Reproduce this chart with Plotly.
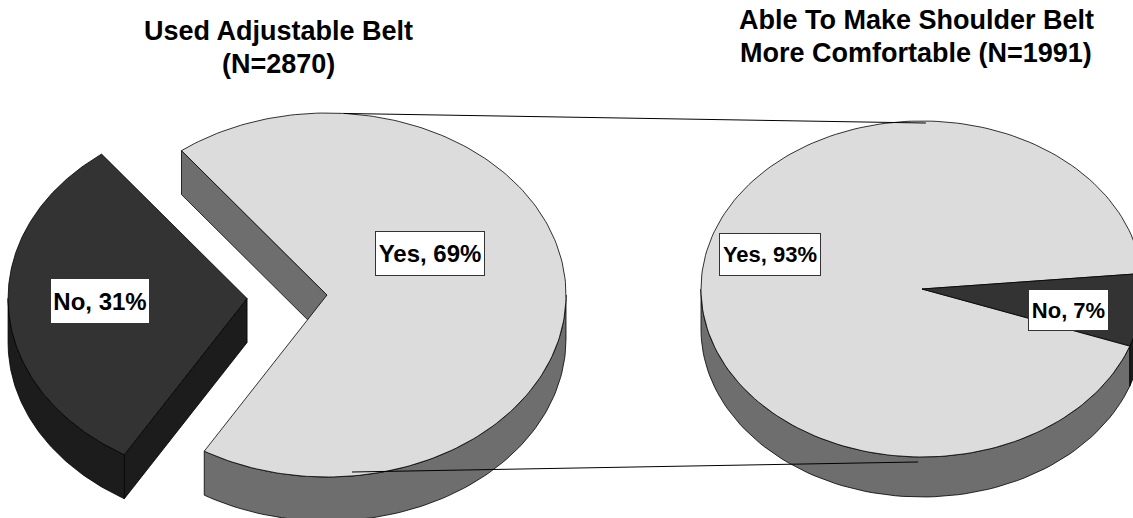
import numpy as np
import plotly.graph_objects as go

# Survey results
left_labels = ["Yes", "No"]
left_values = [69, 31]
right_labels = ["Yes", "No"]
right_values = [93, 7]
left_title = ["Used Adjustable Belt", "(N=2870)"]
right_title = ["Able To Make Shoulder Belt", "More Comfortable (N=1991)"]

W, H = 1133, 518
TOP_COLORS = {"Yes": "#dcdcdc", "No": "#333333"}
SIDE_COLORS = {"Yes": "#6e6e6e", "No": "#1c1c1c"}
FONT = "Liberation Sans, Arial, sans-serif"

# 3-D pie geometry (pixel space of the paper)
LEFT_PIE = dict(cx=327, cy=295, rx=239, ry=182, depth=44, start=127.5,
                clockwise=True, explode={"No": 0.335})
RIGHT_PIE = dict(cx=922, cy=289, rx=221, ry=168, depth=40, start=5.3,
                 clockwise=False, explode={})


def pt(pie, t, ox=0.0, oy=0.0, dz=0.0):
    r = np.radians(t)
    return (pie["cx"] + ox + pie["rx"] * np.cos(r),
            pie["cy"] + oy - pie["ry"] * np.sin(r) + dz)


def slices(pie, labels, values):
    total = float(sum(values))
    out = []
    a = pie["start"]
    for lab, v in zip(labels, values):
        sweep = 360.0 * v / total
        b = a - sweep if pie["clockwise"] else a + sweep
        lo, hi = min(a, b), max(a, b)
        e = pie["explode"].get(lab, 0.0)
        mid = np.radians((lo + hi) / 2)
        ox = e * pie["rx"] * np.cos(mid)
        oy = -e * pie["ry"] * np.sin(mid)
        out.append(dict(label=lab, lo=lo, hi=hi, ox=ox, oy=oy))
        a = b
    return out


def poly(fig, xs, ys, color):
    fig.add_trace(go.Scatter(
        x=list(xs) + [xs[0]], y=list(ys) + [ys[0]], mode="lines",
        fill="toself", fillcolor=color,
        line=dict(color="#000000", width=0.8),
        hoverinfo="skip", showlegend=False))


def draw_pie(fig, pie, labels, values):
    sl = slices(pie, labels, values)
    has_gap = len(pie["explode"]) > 0
    d = pie["depth"]
    # side walls first
    for s in sl:
        col = SIDE_COLORS[s["label"]]
        ox, oy = s["ox"], s["oy"]
        if has_gap:
            for edge, visible in ((s["lo"], np.cos(np.radians(s["lo"])) > 0),
                                  (s["hi"], np.cos(np.radians(s["hi"])) < 0)):
                if visible:
                    c = (pie["cx"] + ox, pie["cy"] + oy)
                    r = pt(pie, edge, ox, oy)
                    xs = [c[0], r[0], r[0], c[0]]
                    ys = [c[1], r[1], r[1] + d, c[1] + d]
                    poly(fig, xs, ys, col)
        for k in range(-2, 3):
            a0 = max(s["lo"], 180 + 360 * k)
            a1 = min(s["hi"], 360 + 360 * k)
            if a0 < a1:
                ts = np.linspace(a0, a1, 80)
                top = [pt(pie, t, ox, oy) for t in ts]
                xs = [p[0] for p in top] + [p[0] for p in top[::-1]]
                ys = [p[1] for p in top] + [p[1] + d for p in top[::-1]]
                poly(fig, xs, ys, col)
    # top faces
    for s in sl:
        ox, oy = s["ox"], s["oy"]
        ts = np.linspace(s["lo"], s["hi"], 200)
        arc = [pt(pie, t, ox, oy) for t in ts]
        xs = [pie["cx"] + ox] + [p[0] for p in arc]
        ys = [pie["cy"] + oy] + [p[1] for p in arc]
        poly(fig, xs, ys, TOP_COLORS[s["label"]])


fig = go.Figure()
draw_pie(fig, LEFT_PIE, left_labels, left_values)
draw_pie(fig, RIGHT_PIE, right_labels, right_values)

# connector lines between the two pies
for (ta, da), (tb, db) in (((86, 0), (89, 2)), ((-84, -4), (-91, 5))):
    p = pt(LEFT_PIE, ta, dz=da)
    q = pt(RIGHT_PIE, tb, dz=db)
    fig.add_trace(go.Scatter(x=[p[0], q[0]], y=[p[1], q[1]], mode="lines",
                             line=dict(color="#000000", width=1),
                             hoverinfo="skip", showlegend=False))

annotations = []
# chart titles
for lines, cx, ys in ((left_title, 278, (31, 64)), (right_title, 916, (20, 53))):
    for txt, y in zip(lines, ys):
        annotations.append(dict(
            x=cx, y=y, xref="x", yref="y", text=f"<b>{txt}</b>",
            showarrow=False, xanchor="center", yanchor="middle",
            font=dict(family=FONT, size=27, color="#000000")))

# data labels
label_pos = [  # (x, y, box w, box h, font size)
    (430, 253, 108, 43, 24),
    (100, 301, 98, 44, 24),
    (770, 254, 100, 41, 22),
    (1068, 310, 79, 40, 22),
]
label_texts = [f"{l}, {v}%" for l, v in zip(left_labels, left_values)] + \
              [f"{l}, {v}%" for l, v in zip(right_labels, right_values)]
for txt, (x, y, bw, bh, fs) in zip(label_texts, label_pos):
    annotations.append(dict(
        x=x, y=y, xref="x", yref="y", text=f"<b>{txt}</b>",
        showarrow=False, xanchor="center", yanchor="middle",
        width=bw, height=bh, borderpad=0, borderwidth=1,
        bordercolor="#333333", bgcolor="#ffffff",
        font=dict(family=FONT, size=fs, color="#000000")))

fig.update_layout(
    width=W, height=H,
    margin=dict(l=0, r=0, t=0, b=0),
    paper_bgcolor="#ffffff", plot_bgcolor="#ffffff",
    xaxis=dict(range=[0, W], visible=False, fixedrange=True),
    yaxis=dict(range=[H, 0], visible=False, fixedrange=True),
    annotations=annotations,
    showlegend=False,
)

fig.write_html("out.html")
